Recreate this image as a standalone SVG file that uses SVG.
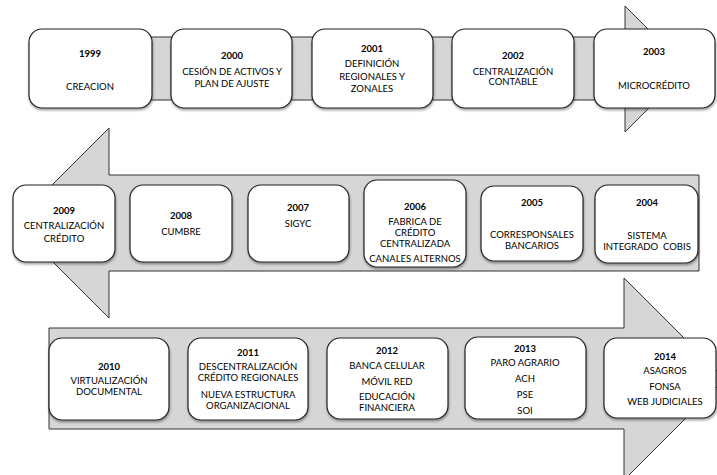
<svg xmlns="http://www.w3.org/2000/svg" width="717" height="475" viewBox="0 0 717 475">
<defs>
<filter id="sh" x="-10%" y="-10%" width="125%" height="130%">
<feDropShadow dx="0.5" dy="2" stdDeviation="1.2" flood-color="#000" flood-opacity="0.35"/>
</filter>
<style>
.arrow{fill:#d6d6d6;stroke:#333;stroke-width:1}
.box{fill:#fff;stroke:#222;stroke-width:1.2;filter:url(#sh)}
text{font-family:Lato,"Open Sans","Liberation Sans",sans-serif;font-size:9.5px;fill:#000;text-anchor:middle;white-space:pre}
.y{font-weight:bold}
</style>
</defs>
<rect width="717" height="475" fill="#fff"/>
<g id="connectors">
<polygon class="arrow" points="40,37 625,37 625,6 688,69 625,132 625,100 40,100"/>
<polygon class="arrow" points="699,175 109,175 109,128 14,223 109,318 109,271 699,271"/>
<polygon class="arrow" points="49,328 624,328 624,278 725,379 624,480 624,429 49,429"/>
</g>
<g id="n1999"><rect class="box" x="29" y="29" width="123" height="79" rx="13"/><text class="y" x="90" y="57">1999</text><text x="90" y="90">CREACION</text></g>
<g id="n2000"><rect class="box" x="171" y="29" width="121" height="79" rx="13"/><text class="y" x="232" y="59">2000</text><text x="232" y="75">CESIÓN DE ACTIVOS Y</text><text x="232" y="87">PLAN DE AJUSTE</text></g>
<g id="n2001"><rect class="box" x="312" y="29" width="121" height="79" rx="13"/><text class="y" x="372" y="52">2001</text><text x="372" y="67">DEFINICIÓN</text><text x="372" y="80">REGIONALES Y</text><text x="372" y="92">ZONALES</text></g>
<g id="n2002"><rect class="box" x="452" y="29" width="122" height="79" rx="13"/><text class="y" x="513" y="59">2002</text><text x="513" y="75">CENTRALIZACIÓN</text><text x="513" y="85">CONTABLE</text></g>
<g id="n2003"><rect class="box" x="594" y="29" width="121" height="79" rx="13"/><text class="y" x="654" y="55">2003</text><text x="654" y="89">MICROCRÉDITO</text></g>
<g id="n2004"><rect class="box" x="595" y="185" width="103" height="78" rx="13"/><text class="y" x="647" y="206">2004</text><text x="647" y="239">SISTEMA</text><text x="647" y="250" xml:space="preserve">INTEGRADO  COBIS</text></g>
<g id="n2005"><rect class="box" x="481" y="186" width="102" height="75" rx="13"/><text class="y" x="532" y="206">2005</text><text x="532" y="238">CORRESPONSALES</text><text x="532" y="249">BANCARIOS</text></g>
<g id="n2006"><rect class="box" x="364" y="180" width="102" height="87" rx="13"/><text class="y" x="415" y="209.5">2006</text><text x="415" y="225">FABRICA DE</text><text x="415" y="235.5">CRÉDITO</text><text x="415" y="247">CENTRALIZADA</text><text x="415" y="262">CANALES ALTERNOS</text></g>
<g id="n2007"><rect class="box" x="248" y="185" width="101" height="77" rx="13"/><text class="y" x="298" y="211">2007</text><text x="298" y="227">SIGYC</text></g>
<g id="n2008"><rect class="box" x="130" y="185" width="102" height="77" rx="13"/><text class="y" x="181" y="219">2008</text><text x="181" y="235">CUMBRE</text></g>
<g id="n2009"><rect class="box" x="13" y="185" width="102" height="77" rx="13"/><text class="y" x="64" y="214">2009</text><text x="64" y="229">CENTRALIZACIÓN</text><text x="64" y="242">CRÉDITO</text></g>
<g id="n2010"><rect class="box" x="49" y="338" width="120" height="82" rx="13"/><text class="y" x="109" y="369.5">2010</text><text x="109" y="383.5">VIRTUALIZACIÓN</text><text x="109" y="394.5">DOCUMENTAL</text></g>
<g id="n2011"><rect class="box" x="188" y="338" width="120" height="82" rx="13"/><text class="y" x="248" y="355.5">2011</text><text x="248" y="370">DESCENTRALIZACIÓN</text><text x="248" y="381">CRÉDITO REGIONALES</text><text x="248" y="397.5">NUEVA ESTRUCTURA</text><text x="248" y="408.5">ORGANIZACIONAL</text></g>
<g id="n2012"><rect class="box" x="327" y="338" width="121" height="81" rx="13"/><text class="y" x="387" y="353.5">2012</text><text x="387" y="368.5">BANCA CELULAR</text><text x="387" y="384.5">MÓVIL RED</text><text x="387" y="400">EDUCACIÓN</text><text x="387" y="410.5">FINANCIERA</text></g>
<g id="n2013"><rect class="box" x="465" y="337" width="121" height="82" rx="13"/><text class="y" x="525" y="351.5">2013</text><text x="525" y="366">PARO AGRARIO</text><text x="525" y="381.5">ACH</text><text x="525" y="397.5">PSE</text><text x="525" y="413.5">SOI</text></g>
<g id="n2014"><rect class="box" x="604" y="338" width="112" height="80" rx="13"/><text class="y" x="665" y="359.5">2014</text><text x="665" y="373.5">ASAGROS</text><text x="665" y="389.5">FONSA</text><text x="665" y="404.5">WEB JUDICIALES</text></g>
</svg>
